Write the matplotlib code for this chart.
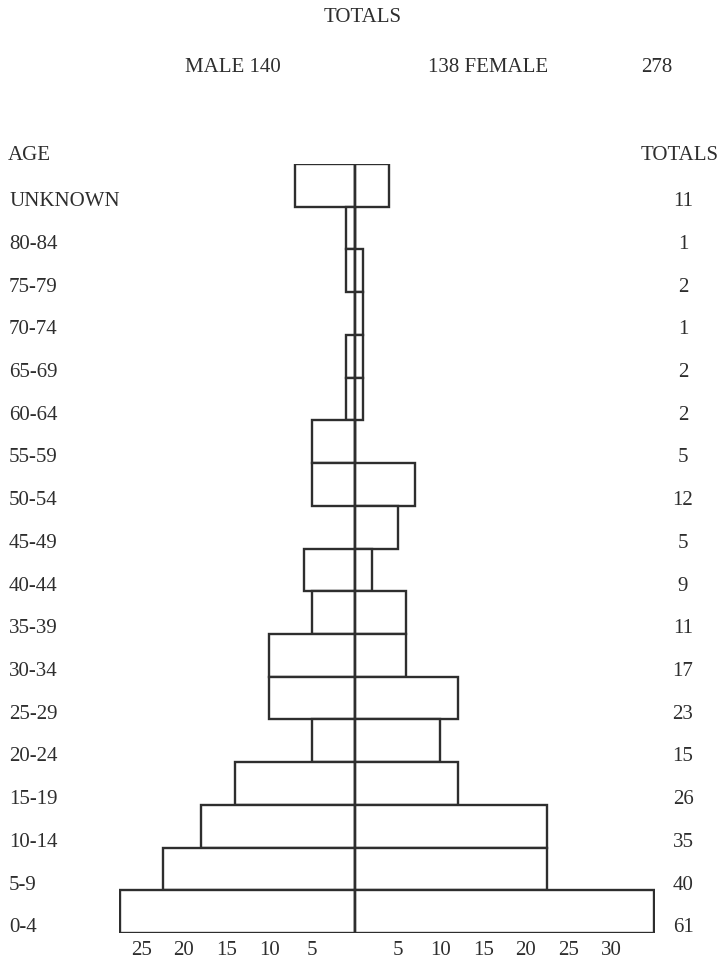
import matplotlib
matplotlib.use("Agg")
import matplotlib.pyplot as plt
from matplotlib.transforms import blended_transform_factory

# ---- data (top row first) ----
age_groups = ["UNKNOWN", "80-84", "75-79", "70-74", "65-69", "60-64", "55-59",
              "50-54", "45-49", "40-44", "35-39", "30-34", "25-29", "20-24",
              "15-19", "10-14", "5-9", "0-4"]
male = [7, 1, 1, 0, 1, 1, 5, 5, 0, 6, 5, 10, 10, 5, 14, 18, 22.5, 27.5]
female = [4, 0, 1, 1, 1, 1, 0, 7, 5, 2, 6, 6, 12, 10, 12, 22.5, 22.5, 35]
row_totals = [11, 1, 2, 1, 2, 2, 5, 12, 5, 9, 11, 17, 23, 15, 26, 35, 40, 61]
male_total = 140
female_total = 138
grand_total = 278
left_ticks = [-25, -20, -15, -10, -5]
right_ticks = [5, 10, 15, 20, 25, 30]

W, H = 728, 961
plt.rcParams['font.family'] = ['Liberation Serif', 'DejaVu Serif']
ink = '#2e2e2e'
fs = 15

fig = plt.figure(figsize=(W / 100, H / 100), dpi=100)
fig.patch.set_facecolor('white')
ax_l, ax_r, ax_b, ax_t = 119, 655, 933, 164
ax = fig.add_axes([ax_l / W, 1 - ax_b / H, (ax_r - ax_l) / W, (ax_b - ax_t) / H])

n = len(age_groups)
ypos = [n - 1 - i + 0.5 for i in range(n)]
ax.barh(ypos, [-m for m in male], height=1.0, left=0, color='white',
        edgecolor=ink, linewidth=1.7, zorder=2)
ax.barh(ypos, female, height=1.0, left=0, color='white',
        edgecolor=ink, linewidth=1.7, zorder=2)
ax.axvline(0, ymin=0, ymax=1, color=ink, linewidth=1.7, zorder=3)

ax.set_xlim(-27.6, 35.1)
ax.set_ylim(0, n)
for s in ax.spines.values():
    s.set_visible(False)
ax.set_yticks([])
ticks = left_ticks + right_ticks
ax.set_xticks(ticks)
ax.set_xticklabels([str(abs(t)) for t in ticks], fontsize=fs, color=ink)
ax.tick_params(axis='x', direction='in', length=7, width=1.6, color=ink, pad=6)
for t in ax.get_xticklines():
    t.set_zorder(4)

# row labels and totals
tr = blended_transform_factory(fig.transFigure, ax.transData)
for i, (lab, tot) in enumerate(zip(age_groups, row_totals)):
    y = n - 1 - i + 0.12
    ax.text(9 / W, y, lab, transform=tr, ha='left', va='center', fontsize=fs, color=ink)
    ax.text(683 / W, y, str(tot), transform=tr, ha='center', va='center', fontsize=fs, color=ink)

def ftext(x, y, s, ha='center'):
    fig.text(x / W, 1 - y / H, s, ha=ha, va='center', fontsize=fs, color=ink)

ftext(363, 18, "TOTALS")
ftext(233, 68, f"MALE {male_total}")
ftext(488, 68, f"{female_total} FEMALE")
ftext(657, 68, str(grand_total))
ftext(8, 155, "AGE", ha='left')
ftext(680, 155, "TOTALS")

fig.savefig("out.png", dpi=100, facecolor='white')
